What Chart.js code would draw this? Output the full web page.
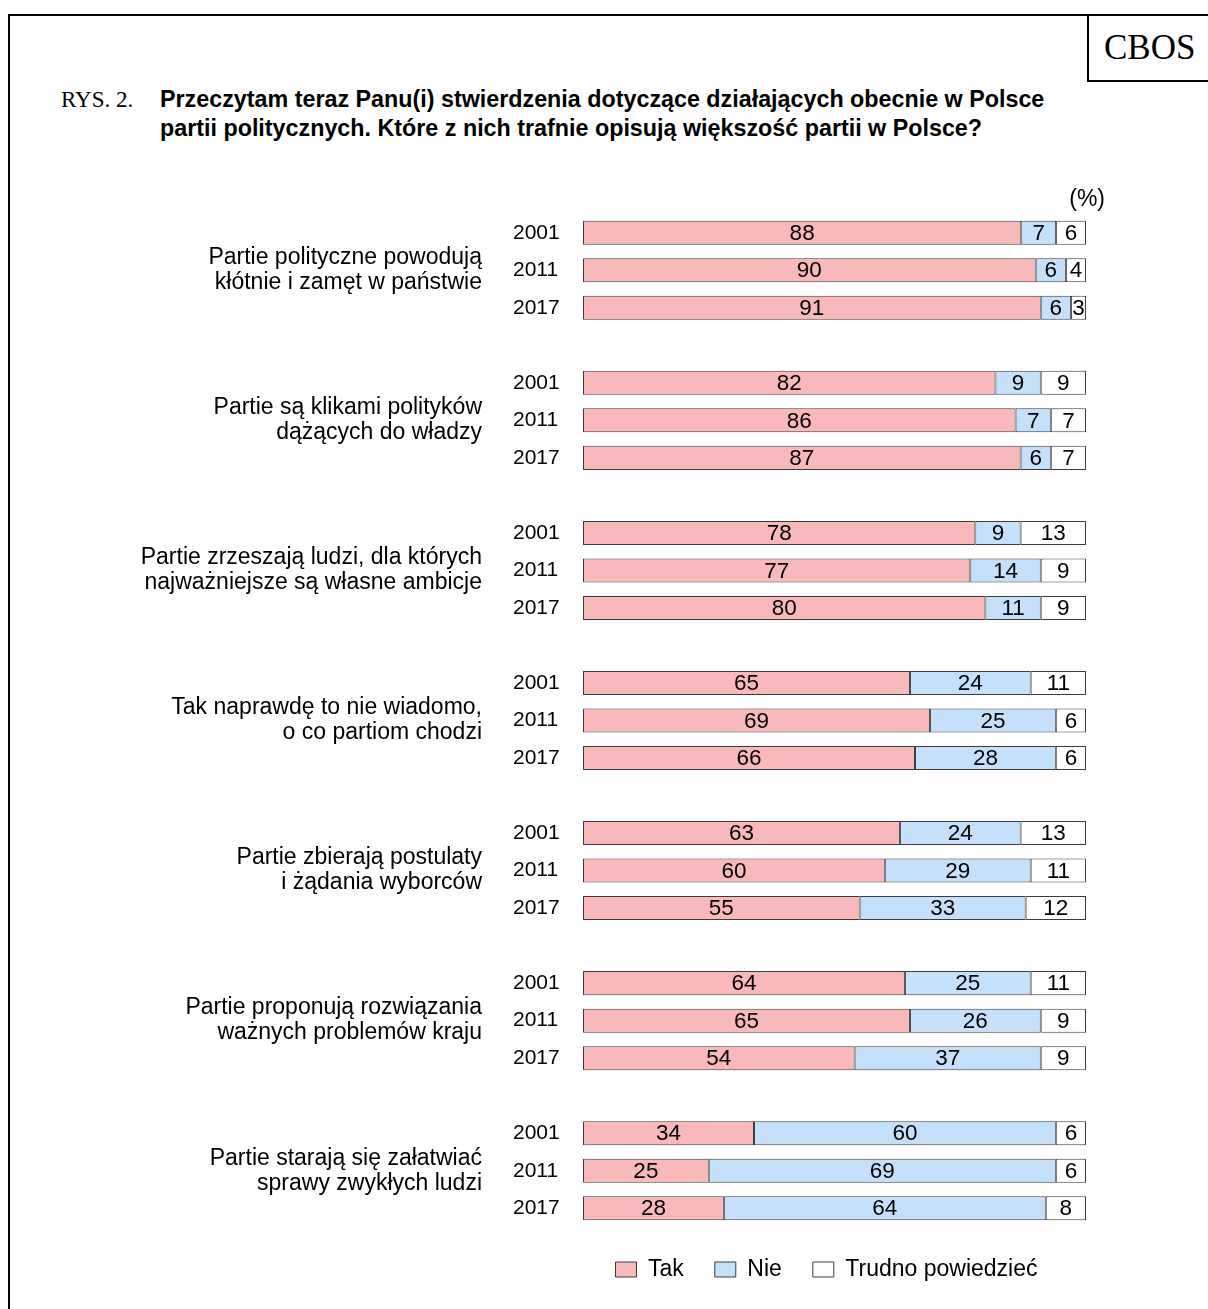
<!DOCTYPE html>
<html lang="pl">
<head>
<meta charset="utf-8">
<title>CBOS – partie polityczne</title>
<script src="https://cdn.jsdelivr.net/npm/chart.js@4.4.1/dist/chart.umd.min.js"></script>
<style>
  html, body { margin: 0; padding: 0; background: #fff; overflow: hidden; }
  body { width: 1208px; height: 1309px; position: relative; color: #000; }
  #frame { position: absolute; left: 8px; top: 14px; width: 1400px; height: 1500px; border: 2.5px solid #000; box-sizing: border-box; }
  #cbos { position: absolute; left: 1087px; top: 14px; width: 200px; height: 68px; border-left: 2.5px solid #000; border-bottom: 2.5px solid #000; box-sizing: border-box; }
  #cbos span { position: absolute; left: 15px; top: 16px; font: 35px/35px "Liberation Serif", "Times New Roman", serif; }
  #rys { position: absolute; left: 61px; top: 85px; font: 23px/29px "Liberation Serif", "Times New Roman", serif; }
  #title { position: absolute; left: 160px; top: 85px; font: bold 23.3px/29px "Liberation Sans", Arial, sans-serif; white-space: nowrap; }
  #chart { position: absolute; left: 0; top: 0; }
</style>
</head>
<body>
<div id="frame"></div>
<div id="cbos"><span>CBOS</span></div>
<div id="rys">RYS. 2.</div>
<div id="title">Przeczytam teraz Panu(i) stwierdzenia dotyczące działających obecnie w Polsce<br>partii politycznych. Które z nich trafnie opisują większość partii w Polsce?</div>
<canvas id="chart" width="1208" height="1291"></canvas>
<script>
const FONT = '"Liberation Sans", Arial, sans-serif';

const years = ['2001', '2011', '2017'];
const statements = [
  ['Partie polityczne powodują', 'kłótnie i zamęt w państwie'],
  ['Partie są klikami polityków', 'dążących do władzy'],
  ['Partie zrzeszają ludzi, dla których', 'najważniejsze są własne ambicje'],
  ['Tak naprawdę to nie wiadomo,', 'o co partiom chodzi'],
  ['Partie zbierają postulaty', 'i żądania wyborców'],
  ['Partie proponują rozwiązania', 'ważnych problemów kraju'],
  ['Partie starają się załatwiać', 'sprawy zwykłych ludzi'],
];

// 3 rows (2001, 2011, 2017) per statement
const tak    = [88, 90, 91, 82, 86, 87, 78, 77, 80, 65, 69, 66, 63, 60, 55, 64, 65, 54, 34, 25, 28];
const nie    = [ 7,  6,  6,  9,  7,  6,  9, 14, 11, 24, 25, 28, 24, 29, 33, 25, 26, 37, 60, 69, 64];
const trudno = [ 6,  4,  3,  9,  7,  7, 13,  9,  9, 11,  6,  6, 13, 11, 12, 11,  9,  9,  6,  6,  8];

const seriesNames = ['Tak', 'Nie', 'Trudno powiedzieć'];
const seriesColors = ['#f9b9ba', '#c5e0fa', '#ffffff'];
const raw = [tak, nie, trudno];

// slots on the category axis: an empty slot between statements
const rowLabels = [];
const rowIdx = [];
statements.forEach((s, g) => {
  if (g > 0) { rowLabels.push(''); rowIdx.push(-1); }
  years.forEach((y, k) => { rowLabels.push(y); rowIdx.push(g * 3 + k); });
});

// bars are drawn as shares of the row total (some rows add up to 101)
const share = (arr, i) => arr[i] * 100 / (tak[i] + nie[i] + trudno[i]);

const labelsPlugin = {
  id: 'labelsPlugin',
  afterDatasetsDraw(chart) {
    const ctx = chart.ctx;
    const area = chart.chartArea;
    const yScale = chart.scales.y;
    ctx.save();
    ctx.fillStyle = '#000';
    ctx.textBaseline = 'middle';

    ctx.font = '22.5px ' + FONT;
    ctx.textAlign = 'center';
    chart.data.datasets.forEach((ds, d) => {
      chart.getDatasetMeta(d).data.forEach((bar, slot) => {
        const i = rowIdx[slot];
        if (i < 0) return;
        ctx.fillText(String(raw[d][i]), (bar.x + bar.base) / 2, bar.y + 1);
      });
    });

    ctx.font = '23px ' + FONT;
    ctx.textAlign = 'right';
    statements.forEach((lines, g) => {
      const yc = yScale.getPixelForValue(g * 4 + 1);
      ctx.fillText(lines[0], area.left - 101, yc - 12.5);
      ctx.fillText(lines[1], area.left - 101, yc + 12.5);
    });

    ctx.fillText('(%)', area.right + 19, area.top - 14);
    ctx.restore();
  }
};

new Chart(document.getElementById('chart'), {
  type: 'bar',
  data: {
    labels: rowLabels,
    datasets: raw.map((arr, d) => ({
      label: seriesNames[d],
      data: rowIdx.map(i => i < 0 ? null : share(arr, i)),
      backgroundColor: seriesColors[d],
      borderColor: '#3c3c3c',
      borderWidth: 1,
      borderSkipped: false,
      barPercentage: 0.64,
      categoryPercentage: 1,
    })),
  },
  options: {
    indexAxis: 'y',
    responsive: false,
    animation: false,
    events: [],
    layout: { padding: { top: 214, left: 567, right: 122, bottom: 0 } },
    plugins: {
      tooltip: { enabled: false },
      legend: {
        position: 'bottom',
        labels: {
          boxWidth: 21,
          boxHeight: 15,
          padding: 31,
          color: '#000',
          font: { family: FONT, size: 23 },
        },
      },
    },
    scales: {
      x: { stacked: true, min: 0, max: 100, display: false },
      y: {
        stacked: true,
        grid: { display: false, drawTicks: false },
        border: { display: false },
        // mirrored so the year labels are not clipped to the narrow axis box
        ticks: { autoSkip: false, mirror: true, padding: -70, color: '#000', font: { family: FONT, size: 21 } },
        afterFit: s => { s.width = 16; },
      },
    },
  },
  plugins: [labelsPlugin],
});
</script>
</body>
</html>
